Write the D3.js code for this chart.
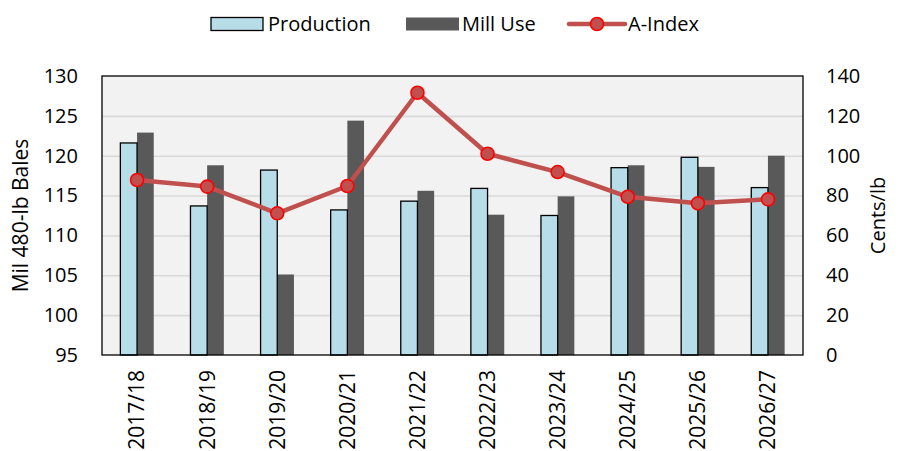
<!DOCTYPE html>
<html>
<head>
<meta charset="utf-8">
<script src="https://cdn.jsdelivr.net/npm/d3@7"></script>
<style>
  html, body { margin: 0; padding: 0; background: #ffffff; }
  svg { display: block; font-family: "Open Sans", "Noto Sans", sans-serif; }
</style>
</head>
<body>
<svg id="chart" width="899" height="451"></svg>
<script>
// Marketing years
const years = ["2017/18", "2018/19", "2019/20", "2020/21", "2021/22",
               "2022/23", "2023/24", "2024/25", "2025/26", "2026/27"];
// World production and mill use, million 480-lb bales
const production = [121.6, 113.7, 118.2, 113.2, 114.3, 115.9, 112.5, 118.5, 119.8, 116.0];
const millUse    = [122.9, 118.8, 105.1, 124.4, 115.6, 112.6, 114.9, 118.8, 118.6, 120.0];
// A-Index, cents per pound
const aIndex     = [87.8, 84.5, 71.1, 84.8, 131.6, 101.0, 91.8, 79.4, 76.1, 78.1];
// Axis ticks
const leftTicks  = [95, 100, 105, 110, 115, 120, 125, 130];
const rightTicks = [0, 20, 40, 60, 80, 100, 120, 140];

const svg = d3.select("#chart");
const m = { left: 102, right: 803, top: 76, bottom: 355 };

const x = d3.scaleBand().domain(years).range([m.left, m.right])
  .paddingInner(0.524).paddingOuter(0.262);
const xSub = d3.scaleBand().domain(["production", "millUse"]).range([0, x.bandwidth()]);
const yL = d3.scaleLinear().domain([95, 130]).range([m.bottom, m.top]);
const yR = d3.scaleLinear().domain([0, 140]).range([m.bottom, m.top]);

// Plot background
svg.append("rect")
  .attr("x", m.left).attr("y", m.top)
  .attr("width", m.right - m.left).attr("height", m.bottom - m.top)
  .attr("fill", "#f2f2f2");

// Horizontal gridlines
svg.append("g")
  .attr("transform", `translate(${m.left},0)`)
  .call(d3.axisLeft(yL).tickValues(leftTicks.slice(1, -1)).tickSize(-(m.right - m.left)).tickFormat(""))
  .call(g => g.select(".domain").remove())
  .call(g => g.selectAll(".tick line").attr("stroke", "#d9d9d9").attr("stroke-width", 1.6));

// Bars
const rows = years.map((yr, i) => ({ year: yr, production: production[i], millUse: millUse[i] }));
const groups = svg.append("g").selectAll("g").data(rows).join("g")
  .attr("transform", d => `translate(${x(d.year)},0)`);

groups.append("rect")
  .attr("x", xSub("millUse")).attr("width", xSub.bandwidth())
  .attr("y", d => yL(d.millUse)).attr("height", d => yL(95) - yL(d.millUse))
  .attr("fill", "#595959");

groups.append("rect")
  .attr("x", xSub("production")).attr("width", xSub.bandwidth())
  .attr("y", d => yL(d.production)).attr("height", d => yL(95) - yL(d.production))
  .attr("fill", "#b7dde8").attr("stroke", "#000000").attr("stroke-width", 1.3);

// A-Index line
const cx = d => x(d.year) + x.bandwidth() / 2;
const pts = years.map((yr, i) => ({ year: yr, v: aIndex[i] }));
svg.append("path")
  .datum(pts)
  .attr("fill", "none").attr("stroke", "#c0504d").attr("stroke-width", 4.5)
  .attr("stroke-linejoin", "round")
  .attr("d", d3.line().x(cx).y(d => yR(d.v)));

svg.append("g").selectAll("circle").data(pts).join("circle")
  .attr("cx", cx).attr("cy", d => yR(d.v)).attr("r", 6.5)
  .attr("fill", "#c0504d").attr("stroke", "#ff0000").attr("stroke-width", 1.6);

// Plot frame
svg.append("rect")
  .attr("x", m.left).attr("y", m.top)
  .attr("width", m.right - m.left).attr("height", m.bottom - m.top)
  .attr("fill", "none").attr("stroke", "#000000").attr("stroke-width", 1.3);

// Left axis labels
svg.append("g")
  .attr("transform", `translate(${m.left},0)`)
  .call(d3.axisLeft(yL).tickValues(leftTicks).tickSize(0).tickPadding(24))
  .call(g => g.select(".domain").remove())
  .call(g => g.selectAll("text").attr("font-size", 20).attr("fill", "#000").attr("font-family", "Open Sans"));

// Right axis labels
svg.append("g")
  .attr("transform", `translate(${m.right},0)`)
  .call(d3.axisRight(yR).tickValues(rightTicks).tickSize(0).tickPadding(23))
  .call(g => g.select(".domain").remove())
  .call(g => g.selectAll("text").attr("font-size", 20).attr("fill", "#000").attr("font-family", "Open Sans"));

// Category labels, vertical
svg.append("g")
  .attr("transform", `translate(0,${m.bottom})`)
  .call(d3.axisBottom(x).tickSize(0).tickPadding(0))
  .call(g => g.select(".domain").remove())
  .call(g => g.selectAll("text")
    .attr("font-size", 21).attr("fill", "#000").attr("font-family", "Open Sans")
    .attr("text-anchor", "end")
    .attr("transform", "rotate(-90)")
    .attr("x", -15).attr("y", 0).attr("dy", "0.35em"));

// Axis titles
svg.append("text")
  .attr("transform", `translate(28,${(m.top + m.bottom) / 2}) rotate(-90)`)
  .attr("text-anchor", "middle").attr("font-size", 21).attr("fill", "#000")
  .text("Mil 480-lb Bales");

svg.append("text")
  .attr("transform", `translate(885,${(m.top + m.bottom) / 2}) rotate(-90)`)
  .attr("text-anchor", "middle").attr("font-size", 20).attr("fill", "#000")
  .text("Cents/lb");

// Legend
const lg = svg.append("g");
lg.append("rect").attr("x", 211).attr("y", 17.5).attr("width", 52).attr("height", 13)
  .attr("fill", "#b7dde8").attr("stroke", "#000").attr("stroke-width", 1.3);
lg.append("text").attr("x", 268).attr("y", 24).attr("dy", "0.35em")
  .attr("font-size", 20).text("Production");

lg.append("rect").attr("x", 406).attr("y", 17.5).attr("width", 53).attr("height", 13)
  .attr("fill", "#595959");
lg.append("text").attr("x", 462).attr("y", 24).attr("dy", "0.35em")
  .attr("font-size", 20).text("Mill Use");

lg.append("line").attr("x1", 569).attr("x2", 625).attr("y1", 24).attr("y2", 24)
  .attr("stroke", "#c0504d").attr("stroke-width", 4.5).attr("stroke-linecap", "round");
lg.append("circle").attr("cx", 597).attr("cy", 24).attr("r", 6.5)
  .attr("fill", "#c0504d").attr("stroke", "#ff0000").attr("stroke-width", 1.6);
lg.append("text").attr("x", 628).attr("y", 24).attr("dy", "0.35em")
  .attr("font-size", 20).text("A-Index");
</script>
</body>
</html>
